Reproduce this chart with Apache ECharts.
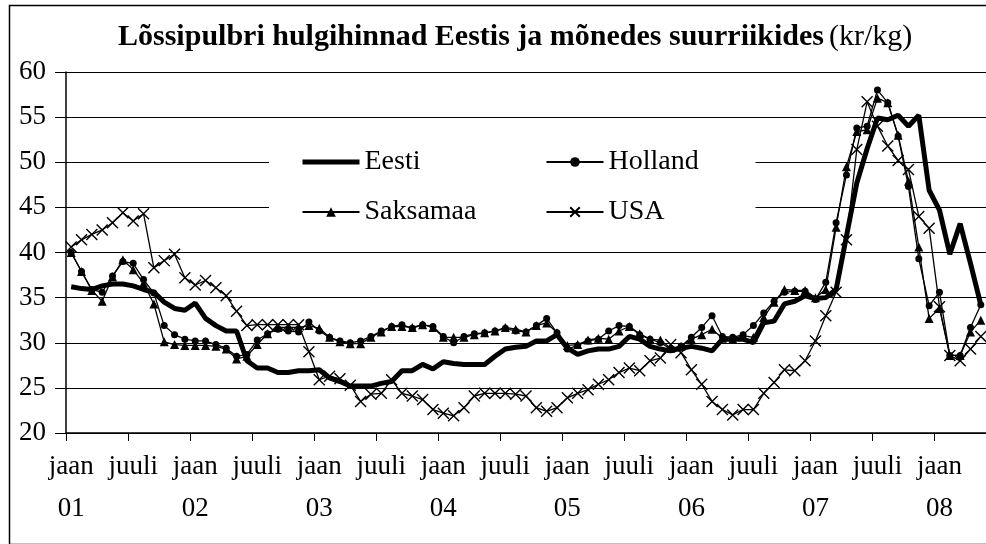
<!DOCTYPE html>
<html>
<head>
<meta charset="utf-8">
<script src="https://cdn.jsdelivr.net/npm/echarts@6/dist/echarts.min.js"></script>
<style>
  html, body { margin: 0; padding: 0; background: #fff; }
  #chart { width: 986px; height: 544px; }
</style>
</head>
<body>
<div id="chart"></div>
<script>
// kuud jaan 2001 ... mai 2008
const years = ['01', '02', '03', '04', '05', '06', '07', '08'];
const monthNames = ['jaan', 'veebr', 'märts', 'apr', 'mai', 'juuni', 'juuli', 'aug', 'sept', 'okt', 'nov', 'dets'];
const months = [];
for (let i = 0; i < 89; i++) {
  months.push(monthNames[i % 12] + ' ' + years[Math.floor(i / 12)]);
}

// hinnad kr/kg
const eesti = [
  36.2, 36.0, 35.9, 36.3, 36.5, 36.5, 36.3, 35.9, 35.6, 34.5, 33.8, 33.6,
  34.4, 32.7, 31.9, 31.3, 31.3, 28.0, 27.2, 27.2, 26.7, 26.7, 26.9, 26.9,
  27.0, 26.1, 25.7, 25.2, 25.2, 25.2, 25.5, 25.7, 26.9, 26.9, 27.6, 27.1,
  27.9, 27.7, 27.6, 27.6, 27.6, 28.5, 29.3, 29.5, 29.6, 30.2, 30.2, 30.9,
  29.4, 28.7, 29.1, 29.3, 29.3, 29.6, 30.7, 30.4, 29.6, 29.3, 29.1, 29.4,
  29.6, 29.4, 29.1, 30.4, 30.4, 30.4, 30.0, 32.2, 32.4, 34.3, 34.6, 35.2,
  34.9, 35.0, 35.9, 41.8, 47.7, 51.5, 54.9, 54.7, 55.2, 54.0, 55.2, 46.9,
  44.7, 39.8, 43.2, 38.8, 34.2
];
const holland = [
  40.0, 37.9, 35.9, 35.6, 37.4, 39.0, 38.8, 37.0, 35.5, 31.9, 30.9, 30.4,
  30.2, 30.2, 29.8, 29.4, 28.5, 28.7, 30.3, 31.0, 31.5, 31.3, 31.2, 32.3,
  31.3, 30.6, 30.2, 30.0, 30.2, 30.7, 31.3, 31.8, 32.0, 31.6, 32.0, 31.8,
  30.7, 30.0, 30.7, 31.0, 31.1, 31.3, 31.6, 31.3, 31.2, 31.9, 32.7, 31.1,
  29.3, 29.7, 30.2, 30.4, 31.3, 31.9, 31.8, 30.9, 30.4, 30.0, 29.3, 29.6,
  30.6, 31.7, 33.0, 30.7, 30.6, 30.9, 31.9, 33.3, 34.6, 35.6, 35.7, 35.7,
  34.8, 36.7, 43.3, 48.6, 53.8, 54.0, 58.0, 56.6, 52.9, 47.3, 39.3, 34.1,
  35.6, 28.6, 28.6, 31.7, 34.2
];
const saksamaa = [
  40.0, 37.9, 35.8, 34.6, 37.3, 39.2, 38.1, 36.6, 34.3, 30.1, 29.8, 29.7,
  29.7, 29.7, 29.6, 29.3, 28.2, 28.5, 29.8, 31.0, 31.7, 31.7, 31.7, 31.9,
  31.6, 30.6, 30.1, 29.9, 29.9, 30.6, 31.2, 31.8, 31.8, 31.7, 32.0, 31.7,
  30.6, 30.6, 30.6, 30.9, 31.1, 31.3, 31.7, 31.5, 31.2, 31.9, 32.2, 31.1,
  29.7, 29.8, 30.3, 30.5, 30.4, 31.3, 31.8, 31.0, 30.4, 30.3, 29.4, 29.6,
  30.4, 30.9, 31.5, 30.5, 30.4, 30.8, 30.6, 32.8, 34.5, 35.9, 35.8, 35.8,
  35.0, 35.9, 42.8, 49.5, 53.4, 53.6, 57.1, 56.6, 53.0, 47.9, 40.6, 32.7,
  33.8, 28.6, 28.6, 31.2, 32.5
];
const usa = [
  40.6, 41.4, 42.0, 42.5, 43.3, 44.4, 43.5, 44.3, 38.3, 39.1, 39.8, 37.2,
  36.4, 36.9, 36.1, 35.2, 33.5, 31.9, 32.0, 32.0, 32.0, 32.0, 32.0, 29.0,
  25.9, 26.3, 26.0, 25.3, 23.5, 24.3, 24.4, 25.9, 24.4, 24.1, 23.7, 22.6,
  22.2, 21.9, 22.8, 24.1, 24.4, 24.4, 24.4, 24.3, 24.1, 22.8, 22.4, 22.8,
  23.9, 24.4, 24.8, 25.4, 25.9, 26.7, 27.2, 26.9, 28.0, 28.3, 29.8, 28.9,
  27.0, 25.4, 23.5, 22.6, 22.0, 22.6, 22.6, 24.4, 25.6, 27.0, 26.9, 28.0,
  30.2, 33.0, 35.6, 41.4, 51.4, 56.7, 54.0, 51.8, 50.2, 49.2, 44.0, 42.7,
  34.0, 28.6, 28.0, 29.3, 30.7
];

const font = 'Liberation Serif';
const xMark = 'path://M0,0L10,10M10,0L0,10';

const chart = echarts.init(document.getElementById('chart'));

const thin = (name, data, symbol, size) => ({
  name: name,
  type: 'line',
  data: data,
  symbol: symbol,
  symbolSize: size,
  showSymbol: true,
  showAllSymbol: true,
  lineStyle: { color: '#000', width: 1.3 },
  itemStyle: { color: '#000', borderColor: '#000', borderWidth: symbol === xMark ? 1.4 : 0 },
  emphasis: { disabled: true }
});

chart.setOption({
  animation: false,
  backgroundColor: '#fff',
  title: {
    text: '{b|Lõssipulbri hulgihinnad Eestis ja mõnedes suurriikides} {n|(kr/kg)}',
    left: 113,
    top: 17,
    textStyle: {
      rich: {
        b: { fontFamily: font, fontWeight: 'bold', fontSize: 30, color: '#000' },
        n: { fontFamily: font, fontWeight: 'normal', fontSize: 30, color: '#000' }
      }
    }
  },
  grid: { left: 66, top: 72, width: 924, height: 361 },
  legend: {
    left: 269,
    top: 125,
    width: 480,
    padding: [17, 52, 14, 31],
    itemGap: 10,
    itemWidth: 57,
    itemHeight: 12,
    backgroundColor: '#fff',
    textStyle: { fontFamily: font, fontSize: 28, color: '#000', lineHeight: 40 },
    data: [
      { name: 'Eesti', itemStyle: { opacity: 0 }, lineStyle: { width: 5 }, textStyle: { width: 171 } },
      { name: 'Holland', textStyle: { width: 95 } },
      { name: 'Saksamaa', textStyle: { width: 171 } },
      { name: 'USA', textStyle: { width: 95 } }
    ]
  },
  xAxis: {
    type: 'category',
    data: months,
    boundaryGap: true,
    axisLine: { show: true, lineStyle: { color: '#000', width: 1.5 } },
    axisTick: { show: true, interval: 5, length: 8, alignWithLabel: false, lineStyle: { color: '#000', width: 1 } },
    axisLabel: {
      interval: 5,
      margin: 13,
      fontFamily: font,
      fontSize: 27,
      lineHeight: 42,
      color: '#000',
      formatter: (v) => {
        const p = v.split(' ');
        return p[0] === 'jaan' ? 'jaan\n' + p[1] : p[0];
      }
    },
    splitLine: { show: false }
  },
  yAxis: {
    type: 'value',
    min: 20,
    max: 60,
    interval: 5,
    axisLine: { show: true, lineStyle: { color: '#000', width: 1.5 } },
    axisTick: { show: true, length: 11, lineStyle: { color: '#000', width: 1 } },
    axisLabel: { margin: 20, fontFamily: font, fontSize: 27, color: '#000' },
    splitLine: { show: true, lineStyle: { color: '#000', width: 1 } }
  },
  series: [
    {
      name: 'Eesti',
      type: 'line',
      data: eesti,
      symbol: 'none',
      lineStyle: { color: '#000', width: 5 },
      itemStyle: { color: '#000' },
      emphasis: { disabled: true }
    },
    thin('Holland', holland, 'circle', 7),
    thin('Saksamaa', saksamaa, 'triangle', 9),
    thin('USA', usa, xMark, 11)
  ],
  graphic: [
    {
      type: 'rect',
      left: 7,
      top: 3,
      shape: { width: 1000, height: 539 },
      style: { fill: 'none', stroke: '#000', lineWidth: 1.5 },
      silent: true
    }
  ]
});
</script>
</body>
</html>
